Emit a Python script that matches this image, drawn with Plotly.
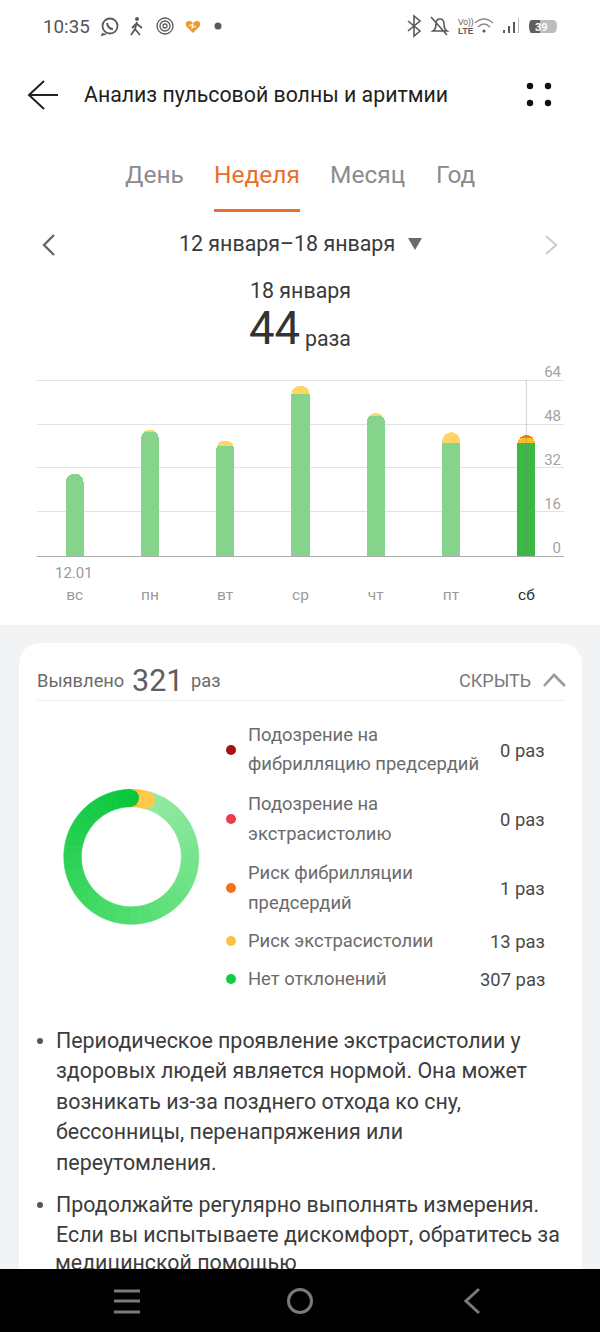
import math
import plotly.graph_objects as go
from plotly.colors import sample_colorscale

W, H = 600, 1332

# weekly chart
days = ["вс", "пн", "вт", "ср", "чт", "пт", "сб"]
normal = [30, 45, 40, 59, 51, 41, 41]
extrasystole = [0, 1, 2, 3, 1, 4, 2]
afib_risk = [0, 0, 0, 0, 0, 0, 1]
y_ticks = [0, 16, 32, 48, 64]
selected = 6

# summary card
legend_counts = [0, 0, 1, 13, 307]
legend_values = ["0 раз", "0 раз", "1 раз", "13 раз", "307 раз"]
legend_colors = ["#A51212", "#EE3B4B", "#F2731B", "#FDC244", "#12CC45"]

GREY = "#8C8C8C"
DARK = "#2B2B2B"
BODY = "#3C3C3C"
LABEL = "#6B6B6B"
ICON = "#5A5A5A"
ROW_DOT_X = 231


def px_x(x):
    return x / W


def px_y(y):
    return 1 - y / H


def text(x, y, s, size, color=DARK, anchor="left", family="Roboto"):
    # annotations land about 1px right/low of the asked spot
    nudge = {"left": -1, "right": 1, "center": 0}[anchor]
    fig.add_annotation(
        x=px_x(x + nudge), y=px_y(y - 1), xref="paper", yref="paper", text=s, showarrow=False,
        xanchor=anchor, yanchor="middle", borderpad=0,
        font=dict(size=size, color=color, family=family),
    )


def backdrop(x0, y0, x1, y1, color):
    fig.add_shape(type="rect", xref="paper", yref="paper", layer="below",
                  x0=px_x(x0), x1=px_x(x1), y0=px_y(y0), y1=px_y(y1),
                  fillcolor=color, line_width=0)


def stroke(path, color=ICON, width=2):
    fig.add_shape(type="path", xref="x2", yref="y2", layer="above", path=path,
                  line=dict(color=color, width=width), fillcolor="rgba(0,0,0,0)")


def solid(path, color):
    fig.add_shape(type="path", xref="x2", yref="y2", layer="above", path=path,
                  line_width=0, fillcolor=color)


def disc(cx, cy, r, color=None, outline=None, width=2):
    fig.add_shape(type="circle", xref="x2", yref="y2", layer="above",
                  x0=cx - r, x1=cx + r, y0=cy - r, y1=cy + r,
                  fillcolor=color or "rgba(0,0,0,0)",
                  line=dict(color=outline or "rgba(0,0,0,0)", width=width if outline else 0))


fig = go.Figure()

# bars
fig.add_bar(x=list(range(7)), y=normal, width=0.24,
            marker=dict(color=["#3CB944" if i == selected else "#86D48B" for i in range(7)], line_width=0))
fig.add_bar(x=list(range(7)), y=extrasystole, width=0.24,
            marker=dict(color=["#FBBE2A" if i == selected else "#FDD666" for i in range(7)], line_width=0))
fig.add_bar(x=list(range(7)), y=afib_risk, width=0.24,
            marker=dict(color="#E38600", line_width=0))

# donut, the big green part is cut in sections only to paint its gradient
sections = 48
ring_cx, ring_cy, ring_r, ring_w = 131.3, 856.8, 67.5, 17.5
start_angle = -1
green_stops = [[0, "#93E9A0"], [0.3, "#6BE285"], [0.6, "#3FD962"], [0.85, "#1CCD4A"], [1, "#0CC63E"]]
green_cols = sample_colorscale(green_stops, [i / (sections - 1) for i in range(sections)])
ring_vals = legend_counts[:4] + [legend_counts[4] / sections] * sections
ring_cols = ["#A51212", "#EE3B4B", "#FFB62E", "#FFC23C"] + green_cols
fig.add_pie(
    values=ring_vals, sort=False, direction="clockwise", rotation=start_angle,
    hole=(ring_r - ring_w) / ring_r, textinfo="none", showlegend=False, hoverinfo="skip",
    marker=dict(colors=ring_cols, line=dict(color=ring_cols, width=0.6)),
    domain=dict(x=[px_x(ring_cx - ring_r), px_x(ring_cx + ring_r)],
                y=[px_y(ring_cy + ring_r), px_y(ring_cy - ring_r)]),
)

# last text line goes under the black nav bar, annotations would sit on top of it
fig.add_scatter(x=[55], y=[1265], mode="text", text=["медицинской помощью"], textposition="middle right",
                textfont=dict(size=21.4, color=BODY, family="Roboto"),
                xaxis="x2", yaxis="y2", showlegend=False, hoverinfo="skip", cliponaxis=False)

# headroom so the 64 gridline is still drawn (plotly drops grid within 1px of the end)
y_top = 64.5
px_per_unit = 176 / 64

fig.update_layout(
    width=W, height=H, margin=dict(l=0, r=0, t=0, b=0), autosize=False,
    template="none", showlegend=False, barmode="stack", barcornerradius=9,
    paper_bgcolor="white", plot_bgcolor="rgba(0,0,0,0)",
    font=dict(family="Roboto"),
    xaxis=dict(
        domain=[px_x(37), px_x(564)], range=[-0.5, 6.5], tickmode="array",
        tickvals=list(range(7)),
        ticktext=[f"<span style='color:{DARK}'>{d}</span>" if i == selected else d for i, d in enumerate(days)],
        tickfont=dict(size=15.5, color="#9A9A9A"), ticks="outside", ticklen=24, tickcolor="rgba(0,0,0,0)",
        showgrid=False, showline=True, linecolor="#ABABAB", linewidth=1, zeroline=False, fixedrange=True,
    ),
    yaxis=dict(
        domain=[px_y(556), px_y(556 - y_top * px_per_unit)], range=[0, y_top], side="right",
        tickmode="array", tickvals=y_ticks,
        ticklabelposition="inside top", ticklabeloverflow="allow", ticks="", ticklabelshift=2,
        tickfont=dict(size=15, color="#A3A3A3"),
        showgrid=True, gridcolor="#E2E2E2", gridwidth=1, zeroline=False, showline=False, fixedrange=True,
    ),
    xaxis2=dict(domain=[0, 1], range=[0, W], visible=False, anchor="y2", fixedrange=True),
    yaxis2=dict(domain=[0, 1], range=[H, 0], visible=False, anchor="x2", fixedrange=True),
)

# page backgrounds
backdrop(0, 625, W, 1269, "#F1F3F5")
fig.add_shape(type="path", xref="paper", yref="paper", layer="below", line_width=0, fillcolor="white",
              path=(f"M{px_x(19)},{px_y(1269)} L{px_x(19)},{px_y(667)} "
                    f"Q{px_x(19)},{px_y(643)} {px_x(43)},{px_y(643)} L{px_x(558)},{px_y(643)} "
                    f"Q{px_x(582)},{px_y(643)} {px_x(582)},{px_y(667)} L{px_x(582)},{px_y(1269)} Z"))
backdrop(37, 700, 564, 701, "#EDEDED")
backdrop(214, 209, 300, 212, "#E8702A")

# selected day marker
fig.add_shape(type="line", xref="x", yref="y", x0=selected, x1=selected, y0=0, y1=y_ticks[-1],
              line=dict(color="rgba(120,120,120,0.35)", width=1), layer="above")

# status bar
text(43, 28, "10:35", 18.8, "#555555")
disc(110, 26, 7.5, outline=ICON, width=1.8)
stroke("M103,33 L102,35 L106,34", ICON, 1.6)
stroke("M107,23 Q108,29 113,29", ICON, 2)
disc(137, 19, 2, color=ICON)
stroke("M137,22 L135,29 L131,35 M135,29 L140,35 M137,24 L142,28 M136,24 L132,28", ICON, 1.8)
for r in (8, 5, 2):
    disc(165, 26, r, outline=ICON, width=1.3)
solid("M193,33 L186,26 Q185,21 189,21 Q192,21 193,23 Q195,21 197,21 Q201,21 200,26 Z", "#EE9A2B")
stroke("M189,26 L193,24 L192,28 L196,26", "white", 1.2)
disc(218, 26, 3.5, color=ICON)
stroke("M408,21 L420,31 L414,36 L414,16 L420,21 L408,31", ICON, 1.6)
stroke("M433,31 Q436,29 436,24 Q436,19 440,19 Q444,19 444,24 Q444,29 447,31 Z M431,17 L447,35", ICON, 1.6)
text(466, 23, "Vo))", 8.5, ICON, "center", "Liberation Sans")
text(466, 32, "<b>LTE</b>", 8.5, ICON, "center", "Liberation Sans")
stroke("M475,23 Q484,15 493,23", "#8A8A8A", 1.5)
stroke("M478,27 Q484,21 490,27", "#8A8A8A", 1.5)
disc(484, 31, 1.6, color=ICON)
backdrop(503, 30, 505, 33, ICON)
backdrop(508, 26, 510, 33, ICON)
backdrop(513, 22, 515, 33, ICON)
backdrop(518, 18, 519, 33, "#BDBDBD")
solid("M530,20 L553,20 Q557,20 557,26 Q557,33 553,33 L530,33 Z", "#BDBDBD")
solid("M532,20 L540,20 L540,33 L532,33 Q529,33 529,26 Q529,20 532,20 Z", "#5F5F5F")
text(541, 28, "<b>39</b>", 11, "white", "center")

# header
stroke("M58,95 L29,95 M44,81 L29,95 L44,109", "#222222", 2)
text(84, 96, "Анализ пульсовой волны и аритмии", 21.3, "#1F1F1F")
for dx in (530, 548):
    for dy in (86, 103):
        disc(dx, dy, 3.2, color="#111111")

# tabs
text(154, 176, "День", 24.5, GREY, "center")
text(257, 176, "Неделя", 24.5, "#E8702A", "center")
text(367, 176, "Месяц", 24.5, GREY, "center")
text(455, 176, "Год", 24.5, GREY, "center")

# period row
stroke("M54,235 L44,245 L54,255", "#666666", 2.4)
text(287, 245, "12 января–18 января", 21.4, "#3A3A3A", "center")
solid("M408,238 L422,238 L415,250 Z", "#6B6B6B")
stroke("M546,236 L556,245 L546,254", "#CFCFCF", 2.2)
text(300, 291, "18 января", 21.4, "#3A3A3A", "center")
text(249, 329, "44", 45.5, "#333333")
text(305, 339, "раза", 21.3, "#3A3A3A")

# chart first date above the day name
text(74, 574, "12.01", 15, "#9A9A9A", "center")

# card head
text(37, 681, "Выявлено", 18.3, LABEL)
text(132, 681, "321", 30.5, "#5E5E5E")
text(191, 681, "раз", 18.3, LABEL)
text(531, 681, "СКРЫТЬ", 18, "#7A7A7A", "right")
stroke("M544,686 L554,675 L565,686", "#9A9A9A", 2.6)

# ring caps
cap_r = ring_r - ring_w / 2
yellow_end = math.radians(start_angle + sum(legend_counts[:4]) / sum(legend_counts) * 360)
green_end = math.radians(start_angle)
disc(ring_cx + cap_r * math.sin(yellow_end), ring_cy - cap_r * math.cos(yellow_end), ring_w / 2, color="#FFC94D")
disc(ring_cx + cap_r * math.sin(green_end), ring_cy - cap_r * math.cos(green_end), ring_w / 2, color="#0CC63E")

# legend rows
rows = [
    (750, ["Подозрение на", "фибрилляцию предсердий"]),
    (819, ["Подозрение на", "экстрасистолию"]),
    (888, ["Риск фибрилляции", "предсердий"]),
    (941, ["Риск экстрасистолии"]),
    (979, ["Нет отклонений"]),
]
for (row_y, lines), val, col in zip(rows, legend_values, legend_colors):
    disc(ROW_DOT_X, row_y, 5, color=col)
    if len(lines) == 2:
        text(248, row_y - 15, lines[0], 18.4, LABEL)
        text(248, row_y + 15, lines[1], 18.4, LABEL)
    else:
        text(248, row_y, lines[0], 18.4, LABEL)
    text(545, row_y + 1, val, 18.4, "#4A4A4A", "right")

# advice text
para_1 = ["Периодическое проявление экстрасистолии у", "здоровых людей является нормой. Она может",
          "возникать из-за позднего отхода ко сну,", "бессонницы, перенапряжения или", "переутомления."]
para_2 = ["Продолжайте регулярно выполнять измерения.", "Если вы испытываете дискомфорт, обратитесь за"]
for line, ly in zip(para_1, [1041, 1071, 1102, 1132, 1163]):
    text(56, ly, line, 21.4, BODY)
for line, ly in zip(para_2, [1205, 1235]):
    text(56, ly, line, 21.4, BODY)
disc(40, 1041, 3, color="#555555")
disc(40, 1205, 3, color="#555555")

# nav bar
solid("M0,1269 L600,1269 L600,1332 L0,1332 Z", "#000000")
for ny in (1291, 1301, 1312):
    stroke(f"M114,{ny} L140,{ny}", "#7A7A7A", 3)
disc(300, 1301, 11.5, outline="#7A7A7A", width=3)
stroke("M479,1289 L466,1301 L479,1313", "#7A7A7A", 3)

# the browser's default body margin would push everything 8px in
fig.write_html("out.html", config=dict(displayModeBar=False),
               post_script="document.body.style.margin='0';document.body.style.overflow='hidden';")
